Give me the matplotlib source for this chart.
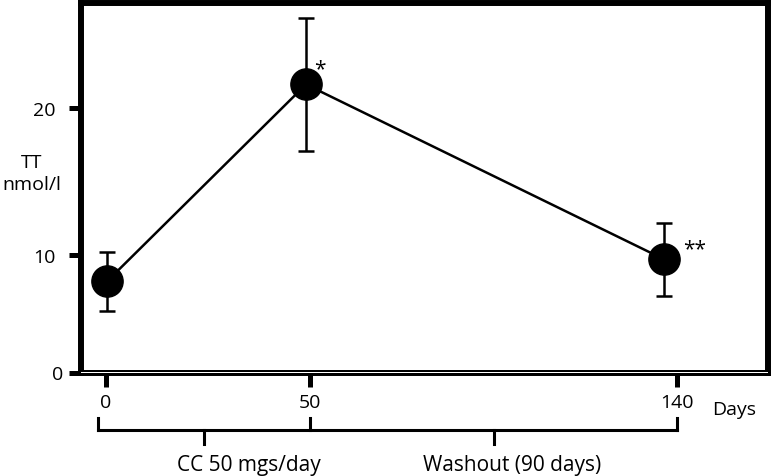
import matplotlib.pyplot as plt
import matplotlib.transforms as mtransforms

# data
days = [0, 50, 140]
tt_mean = [8.2, 21.6, 9.7]
tt_err = [2.0, 4.5, 2.5]
signif = ['', '*', '**']

tick_days = [0, 50, 140]
bracket_ends = [-2, 50, 140]
phase_labels = ['CC 50 mgs/day', 'Washout (90 days)']
phase_text_x = [35, 99.5]

plt.rcParams['font.family'] = ['Open Sans', 'DejaVu Sans']

W, H = 775, 477
fig = plt.figure(figsize=(W / 100, H / 100), dpi=100)

# box, in pixels: left 81, right 768, top 4, bottom 373.5
L, R, T, B = 81, 768, 4, 373.5
ax = fig.add_axes([L / W, (H - B) / H, (R - L) / W, (B - T) / H])
ax.errorbar(days, tt_mean, yerr=tt_err, fmt='o-', color='black',
            markersize=22.5, linewidth=1.8, elinewidth=1.8,
            capsize=5.5, capthick=1.8, clip_on=False, zorder=3)
star_offsets = [(0, 0), (6, 4), (14, 0)]
for d, m, s, off in zip(days, tt_mean, signif, star_offsets):
    if s:
        ax.annotate(s, (d, m), xytext=off, textcoords='offset points',
                    ha='left', va='bottom', fontsize=15)

ax.set_xlim(-6.53, 166.1)
ax.set_ylim(2.0, 27.14)
ax.set_xticks([])
ax.set_yticks([2.0, 10, 20])
ax.set_yticklabels(['0', '10', '20'])
ax.tick_params(axis='y', direction='out', length=8.6, width=3.6,
               pad=10, labelsize=14)
for sp in ax.spines.values():
    sp.set_linewidth(4.3)
# the "0" sits closer to the axis in the original
lab0 = ax.get_yticklabels()[0]
lab0.set_transform(lab0.get_transform() +
                   mtransforms.ScaledTranslation(8 / 100, 0, fig.dpi_scale_trans))

fig.text(32 / W, 1 - 174 / H, 'TT\nnmol/l', ha='center', va='center',
         fontsize=14, linespacing=1.35)

# timeline axis under the box (own scale, as in the original)
tl = fig.add_axes([L / W, (H - B) / H, (R - L) / W, 1e-6])
tl.set_xlim(-6.13, 162.25)
tl.set_yticks([])
for sp in tl.spines.values():
    sp.set_visible(False)
tl.set_xticks(tick_days)
tl.set_xticklabels([str(d) for d in tick_days])
tl.tick_params(axis='x', direction='out', length=10, width=3.6,
               pad=5, labelsize=14)
tl.annotate('Days', (148.5, 0), xycoords=('data', 'axes fraction'),
            xytext=(0, -26), textcoords='offset points',
            ha='left', va='center', fontsize=14)

# phase brackets
br = fig.add_axes([L / W, 0, (R - L) / W, (H - B) / H])
br.set_xlim(-6.13, 162.25)
br.set_ylim(0, 1)
br.axis('off')
y_top, y_mid, y_low = 0.56, 0.44, 0.31
br.plot(bracket_ends[:1] * 2, [y_top, y_mid], color='black', lw=2.2)
br.plot([bracket_ends[0], bracket_ends[-1]], [y_mid, y_mid], color='black', lw=2.2)
br.plot(bracket_ends[-1:] * 2, [y_top, y_mid], color='black', lw=2.2)
for e in bracket_ends[1:-1]:
    br.plot([e, e], [y_top, y_mid], color='black', lw=2.2)
for a, b in zip(bracket_ends[:-1], bracket_ends[1:]):
    mid = (a + b) / 2
    br.plot([mid, mid], [y_mid, y_low], color='black', lw=2.2)
for txt, x in zip(phase_labels, phase_text_x):
    br.text(x, 0.11, txt, ha='center', va='center', fontsize=15)

fig.savefig('out.png', dpi=100)
